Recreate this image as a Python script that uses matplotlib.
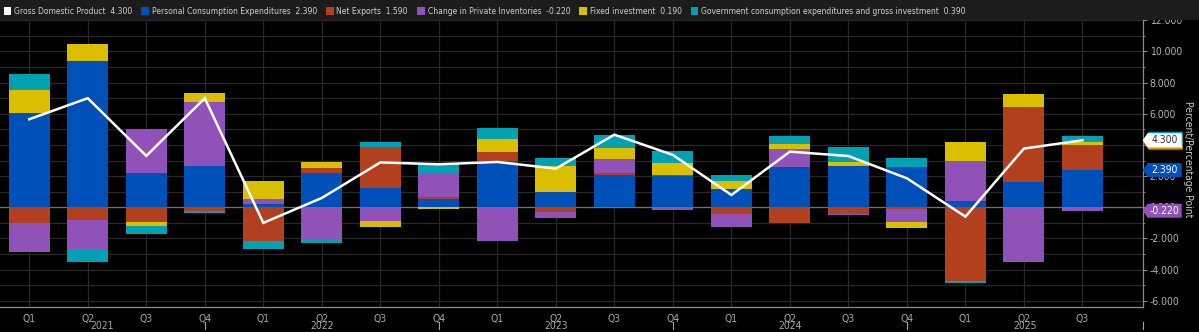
import numpy as np
import matplotlib
matplotlib.use("Agg")
import matplotlib.pyplot as plt
from matplotlib import font_manager as fm
from matplotlib.patches import Polygon, Rectangle
from matplotlib.transforms import IdentityTransform, blended_transform_factory
from matplotlib.ticker import MultipleLocator, FuncFormatter

# quarterly contributions to US real GDP growth (SAAR, percentage points)
quarters = ["Q1", "Q2", "Q3", "Q4"] * 4 + ["Q1", "Q2", "Q3"]
years = ["2021", "2022", "2023", "2024", "2025"]

gdp = [5.65, 7.00, 3.30, 7.00, -1.00, 0.60, 2.88, 2.76, 2.91, 2.48,
       4.66, 3.36, 0.79, 3.57, 3.29, 1.86, -0.60, 3.77, 4.30]
pce = [6.03, 9.39, 2.22, 2.63, 0.24, 2.18, 1.26, 0.53, 2.95, 1.01,
       2.05, 2.01, 1.18, 2.61, 2.65, 2.61, 0.41, 1.65, 2.39]
net_exports = [-1.01, -0.81, -0.94, -0.24, -2.16, 0.37, 2.63, 0.11, 0.60, -0.32,
               0.13, 0.03, -0.43, -1.03, -0.42, -0.09, -4.70, 4.81, 1.59]
inventories = [-1.86, -1.88, 2.81, 4.15, 0.30, -2.05, -0.88, 1.54, -2.16, -0.35,
               0.94, -0.17, -0.81, 1.16, -0.09, -0.88, 2.57, -3.42, -0.22]
fixed_inv = [1.50, 1.09, -0.26, 0.53, 1.12, 0.35, -0.41, -0.11, 0.86, 1.65,
             0.70, 0.83, 0.51, 0.26, 0.28, -0.35, 1.20, 0.81, 0.19]
government = [1.03, -0.81, -0.49, -0.11, -0.51, -0.22, 0.28, 0.57, 0.68, 0.51,
              0.83, 0.77, 0.39, 0.55, 0.92, 0.55, -0.15, -0.09, 0.39]

names = ["Personal Consumption Expenditures", "Net Exports",
         "Change in Private Inventories", "Fixed investment",
         "Government consumption expenditures and gross investment"]
series = [pce, net_exports, inventories, fixed_inv, government]
colors = ["#0050b9", "#b2401e", "#9052b8", "#d9bf00", "#00a1b2"]

# pick a narrow sans font if there is one installed
FONT = dict(family=["Liberation Sans", "DejaVu Sans"])
for f in fm.fontManager.ttflist:
    if "Mono" in f.name or "Serif" in f.name:
        continue
    if "Narrow" in f.name or f.stretch in ("condensed", "semi-condensed"):
        FONT = dict(family=[f.name, "DejaVu Sans"], fontstretch=f.stretch)
        break

W, H = 1199, 332
fig = plt.figure(figsize=(W / 100, H / 100), dpi=100, facecolor="black")
ax = fig.add_axes([0, 1 - 306.7 / H, 1142.7 / W, (306.7 - 20.3) / H])
ax.set_facecolor("black")

x = np.arange(len(quarters))
pos_base = np.zeros(len(x))
neg_base = np.zeros(len(x))
for vals, c in zip(series, colors):
    v = np.array(vals)
    bottom = np.where(v >= 0, pos_base, neg_base)
    ax.bar(x, v, 0.7, bottom=bottom, color=c, linewidth=0, zorder=3)
    pos_base += np.where(v >= 0, v, 0)
    neg_base += np.where(v < 0, v, 0)

ax.plot(x, gdp, color="white", lw=1.8, zorder=5, solid_joinstyle="miter")
ax.axhline(0, color="#707070", lw=0.9, zorder=2)

ax.set_xlim(-0.5, 19.03)
ax.set_ylim(-6.38, 12.0)

# axes styling
for s in ["top", "left"]:
    ax.spines[s].set_visible(False)
for s in ["right", "bottom"]:
    ax.spines[s].set_color("#8c8c8c")
    ax.spines[s].set_linewidth(0.9)

ax.yaxis.tick_right()
ax.yaxis.set_major_locator(MultipleLocator(2))
ax.yaxis.set_minor_locator(MultipleLocator(1))
ax.yaxis.set_major_formatter(FuncFormatter(lambda v, p: f"{v:.3f}"))
ax.tick_params(axis="y", which="major", length=3, color="#8c8c8c",
               labelcolor="#b4b4b4", labelsize=7.5, pad=2)
ax.tick_params(axis="y", which="minor", length=1.5, color="#8c8c8c")
ax.set_xticks(x)
ax.set_xticklabels(quarters)
ax.tick_params(axis="x", length=0, labelcolor="#a8a8a8", labelsize=7.5, pad=5)
for lab in ax.get_xticklabels() + ax.get_yticklabels():
    lab.set_family(FONT["family"])
    lab.set_stretch(FONT.get("fontstretch", "normal"))

ax.grid(True, which="both", axis="y", color="#282828", lw=0.9, zorder=0)
ax.grid(True, which="major", axis="x", color="#282828", lw=0.9, zorder=0)
ax.set_axisbelow(True)

# year labels and separators
blend = blended_transform_factory(ax.transData, ax.transAxes)
seps = [-0.5, 3, 7, 11, 15, 19.03]
for i, yr in enumerate(years):
    ax.text((seps[i] + seps[i + 1]) / 2, -0.068, yr, transform=blend,
            ha="center", va="center", fontsize=7.5, color="#a8a8a8", **FONT)
for s in seps[1:]:
    ax.plot([s, s], [-0.053, -0.079], transform=blend, color="#a8a8a8",
            lw=0.8, clip_on=False)

renderer = fig.canvas.get_renderer()

ylab = fig.text(0.991, 1 - 159 / H, "Percent/Percentage Point", rotation=270,
                ha="center", va="center", fontsize=8, color="#c8c8c8", **FONT)
span = ylab.get_window_extent(renderer).height
ylab.set_fontsize(min(8.5, 8 * 116 / span))

# value tags on the right axis
x_tip = ax.transAxes.transform((1, 0))[0]


def tag(value, face, txt_color, dx=0.0, dy=0.0, text=None):
    yc = ax.transData.transform((0, value))[1] + dy
    x0 = x_tip + dx
    pts = [(x0, yc), (x0 + 5, yc + 7), (x0 + 39, yc + 7),
           (x0 + 39, yc - 7), (x0 + 5, yc - 7)]
    fig.add_artist(Polygon(pts, closed=True, facecolor=face, edgecolor="none",
                           transform=IdentityTransform(), zorder=5))
    if text is not None:
        fig.text((x0 + 22) / W, yc / H, text, ha="center", va="center",
                 fontsize=7.5, color=txt_color, zorder=6, **FONT)


last = len(x) - 1
tag(gdp[last], colors[1], "white", dx=1, dy=-3)
tag(gdp[last], colors[3], "white", dx=1, dy=-1.5)
tag(gdp[last], colors[4], "white", dx=1, dy=1.5)
tag(gdp[last], "white", "#333333", text=f"{gdp[last]:.3f}")
tag(pce[last], colors[0], "white", text=f"{pce[last]:.3f}")
tag(inventories[last], colors[2], "white", text=f"{inventories[last]:.3f}")

# legend strip
fig.add_artist(Rectangle((0, 1 - 20 / H), 1, 20 / H, transform=fig.transFigure,
                         facecolor="#1c1c1c", edgecolor="none", zorder=1))
items = [("Gross Domestic Product", gdp[last], "white")]
items += [(n, s[last], c) for n, s, c in zip(names, series, colors)]
labels = [f"{n}  {v:.3f}" for n, v, c in items]

# size the legend text so the whole strip spans like the reference
probe = fig.text(0, 0, "  ".join(labels), fontsize=7, **FONT)
probe_w = probe.get_window_extent(renderer).width
probe.remove()
leg_size = min(7.6, 7 * (977 - 6 * 19.5) / (probe_w - 5 * 2 * 2.0))

xpos = 3.5
ytxt = H - 11
for (name, val, c), lab in zip(items, labels):
    fig.add_artist(Rectangle((xpos / W, (ytxt - 4) / H), 7.5 / W, 8 / H,
                             transform=fig.transFigure, facecolor=c,
                             edgecolor="none", zorder=2))
    t = fig.text((xpos + 10.5) / W, ytxt / H, lab, ha="left", va="center",
                 fontsize=leg_size, color="#d0d0d0", zorder=3, **FONT)
    bb = t.get_window_extent(renderer)
    xpos = bb.x1 + 9

fig.savefig("out.png", dpi=100, facecolor="black")
